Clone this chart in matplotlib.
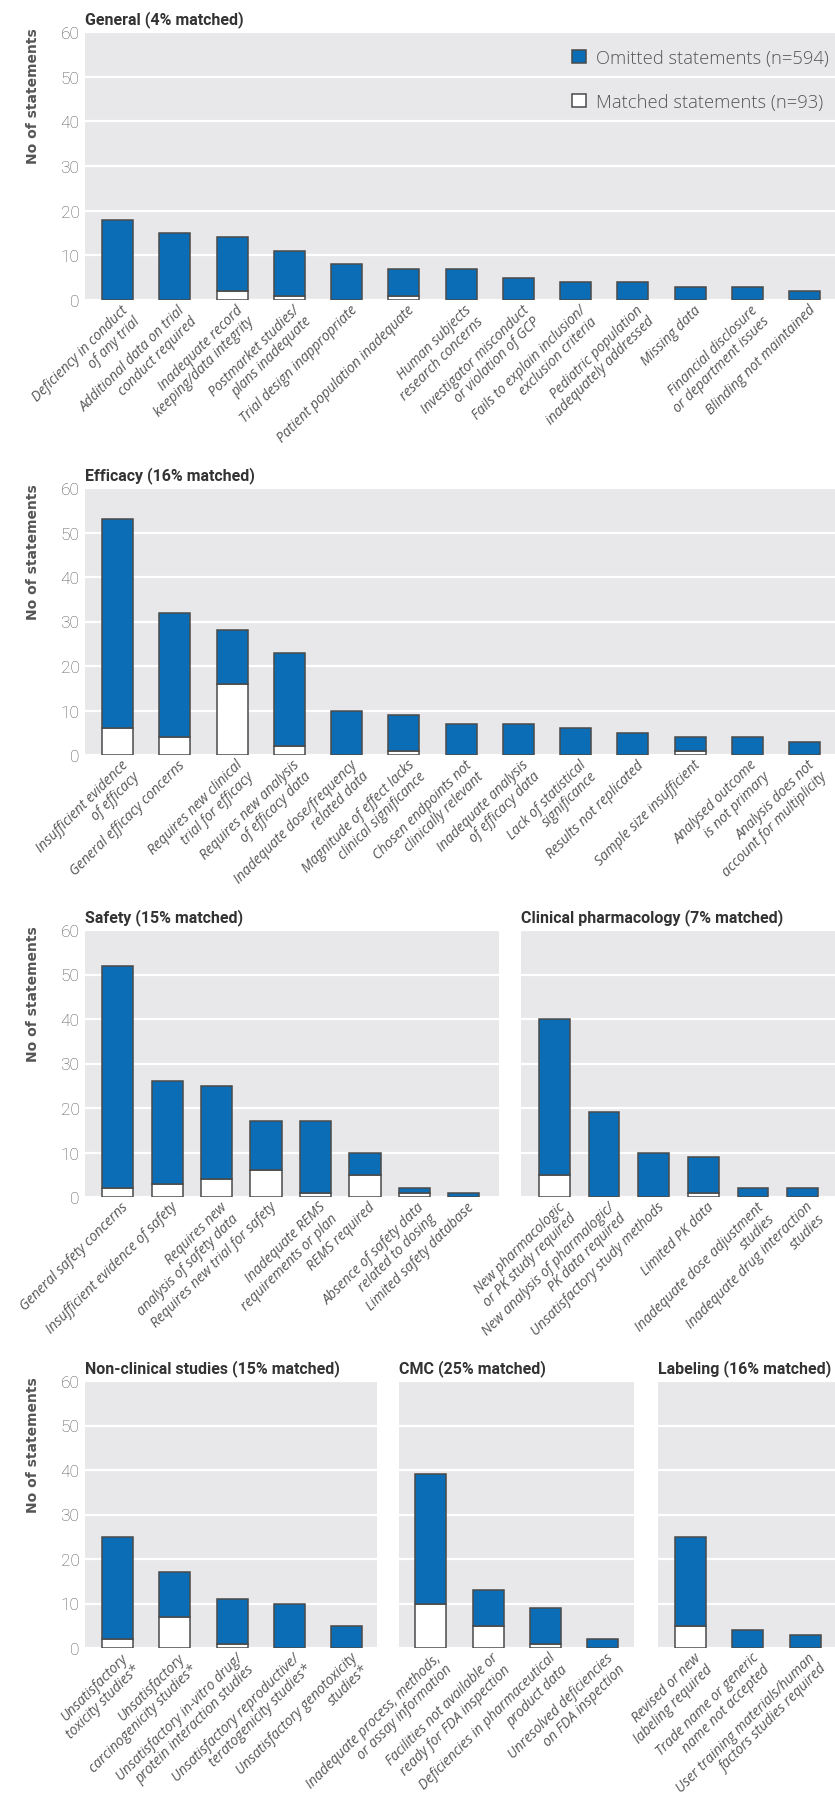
import matplotlib.pyplot as plt
from matplotlib.patches import Patch
from matplotlib.transforms import ScaledTranslation

plt.rcParams['font.family'] = ['Open Sans', 'DejaVu Sans']
NARROW = ['Roboto', 'DejaVu Sans']

# ---- data: total statements per category and how many of them were matched ----
general_labels = ["Deficiency in conduct\nof any trial", "Additional data on trial\nconduct required",
                  "Inadequate record\nkeeping/data integrity", "Postmarket studies/\nplans inadequate",
                  "Trial design inappropriate", "Patient population inadequate",
                  "Human subjects\nresearch concerns", "Investigator misconduct\nor violation of GCP",
                  "Fails to explain inclusion/\nexclusion criteria", "Pediatric population\ninadequately addressed",
                  "Missing data", "Financial disclosure\nor department issues", "Blinding not maintained"]
general_total = [18, 15, 14, 11, 8, 7, 7, 5, 4, 4, 3, 3, 2]
general_matched = [0, 0, 2, 1, 0, 1, 0, 0, 0, 0, 0, 0, 0]

efficacy_labels = ["Insufficient evidence\nof efficacy", "General efficacy concerns",
                   "Requires new clinical\ntrial for efficacy", "Requires new analysis\nof efficacy data",
                   "Inadequate dose/frequency\nrelated data", "Magnitude of effect lacks\nclinical significance",
                   "Chosen endpoints not\nclinically relevant", "Inadequate analysis\nof efficacy data",
                   "Lack of statistical\nsignificance", "Results not replicated", "Sample size insufficient",
                   "Analysed outcome\nis not primary", "Analysis does not\naccount for multiplicity"]
efficacy_total = [53, 32, 28, 23, 10, 9, 7, 7, 6, 5, 4, 4, 3]
efficacy_matched = [6, 4, 16, 2, 0, 1, 0, 0, 0, 0, 1, 0, 0]

safety_labels = ["General safety concerns", "Insufficient evidence of safety",
                 "Requires new\nanalysis of safety data", "Requires new trial for safety",
                 "Inadequate REMS\nrequirements or plan", "REMS required",
                 "Absence of safety data\nrelated to dosing", "Limited safety database"]
safety_total = [52, 26, 25, 17, 17, 10, 2, 1]
safety_matched = [2, 3, 4, 6, 1, 5, 1, 0]

clinpharm_labels = ["New pharmacologic\nor PK study required", "New analysis of pharmalogic/\nPK data required",
                    "Unsatisfactory study methods", "Limited PK data",
                    "Inadequate dose adjustment\nstudies", "Inadequate drug interaction\nstudies"]
clinpharm_total = [40, 19, 10, 9, 2, 2]
clinpharm_matched = [5, 0, 0, 1, 0, 0]

nonclinical_labels = ["Unsatisfactory\ntoxicity studies*", "Unsatisfactory\ncarcinogenicity studies*",
                      "Unsatisfactory in-vitro drug/\nprotein interaction studies",
                      "Unsatisfactory reproductive/\nteratogenicity studies*",
                      "Unsatisfactory genotoxicity\nstudies*"]
nonclinical_total = [25, 17, 11, 10, 5]
nonclinical_matched = [2, 7, 1, 0, 0]

cmc_labels = ["Inadequate process, methods,\nor assay information",
              "Facilities not available or\nready for FDA inspection",
              "Deficiencies in pharmaceutical\nproduct data", "Unresolved deficiencies\non FDA inspection"]
cmc_total = [39, 13, 9, 2]
cmc_matched = [10, 5, 1, 0]

labeling_labels = ["Revised or new\nlabeling required", "Trade name or generic\nname not accepted",
                   "User training materials/human\nfactors studies required"]
labeling_total = [25, 4, 3]
labeling_matched = [5, 0, 0]

all_total = general_total + efficacy_total + safety_total + clinpharm_total + nonclinical_total + cmc_total + labeling_total
all_matched = (general_matched + efficacy_matched + safety_matched + clinpharm_matched
               + nonclinical_matched + cmc_matched + labeling_matched)

BLUE = '#0a6db6'
EDGE = '#4a4a4a'
BG = '#e8e8eb'
GREY = '#555555'

W, H = 835, 1806
fig = plt.figure(figsize=(W / 100, H / 100), dpi=100)


def box(x0, y0, x1, y1):
    # pixel box (top-left origin) -> figure fraction
    return [x0 / W, 1 - y1 / H, (x1 - x0) / W, (y1 - y0) / H]


panels = [
    ("General", general_labels, general_total, general_matched, (85, 33, 835, 301), (-0.57, 12.53), 0.54, True),
    ("Efficacy", efficacy_labels, efficacy_total, efficacy_matched, (85, 489, 835, 756), (-0.57, 12.53), 0.54, True),
    ("Safety", safety_labels, safety_total, safety_matched, (85, 931, 499, 1198), (-0.66, 7.71), 0.63, True),
    ("Clinical pharmacology", clinpharm_labels, clinpharm_total, clinpharm_matched, (521, 931, 835, 1198), (-0.67, 5.65), 0.62, False),
    ("Non-clinical studies", nonclinical_labels, nonclinical_total, nonclinical_matched, (85, 1382, 377, 1649), (-0.57, 4.53), 0.54, True),
    ("CMC", cmc_labels, cmc_total, cmc_matched, (399, 1382, 634, 1649), (-0.55, 3.54), 0.54, False),
    ("Labeling", labeling_labels, labeling_total, labeling_matched, (658, 1382, 835, 1649), (-0.57, 2.52), 0.54, False),
]

label_shift = ScaledTranslation(3 / 100, -2 / 100, fig.dpi_scale_trans)

for name, labels, total, matched, pix, xlim, bw, first_col in panels:
    ax = fig.add_axes(box(*pix))
    ax.set_facecolor(BG)
    x = list(range(len(labels)))
    omitted = [t - m for t, m in zip(total, matched)]
    ax.bar(x, matched, width=bw, color='white', edgecolor=EDGE, linewidth=1.1, zorder=3)
    ax.bar(x, omitted, bottom=matched, width=bw, color=BLUE, edgecolor=EDGE, linewidth=1.1, zorder=3)

    ax.set_xlim(*xlim)
    ax.set_ylim(0, 60)
    ax.set_yticks(range(0, 61, 10))
    ax.yaxis.grid(True, color='white', linewidth=1.6)
    ax.set_axisbelow(True)
    ax.set_xticks([])
    for s in ax.spines.values():
        s.set_visible(False)
    ax.tick_params(axis='y', length=0, pad=4, labelsize=12.5, labelcolor=GREY,
                   labelleft=first_col)
    for t in ax.get_yticklabels():
        t.set_family(NARROW)
        t.set_fontweight('light')

    pct = round(100 * sum(matched) / sum(total))
    ax.set_title(f"{name} ({pct}% matched)", loc='left', pad=6, fontsize=11.5,
                 fontweight='bold', color='#333333', family=NARROW)

    for i, lab in enumerate(labels):
        ax.text(i, 0, lab, transform=ax.get_xaxis_transform() + label_shift,
                rotation=45, rotation_mode='anchor', ha='right', va='top',
                multialignment='right', fontsize=10, style='italic', color=GREY,
                linespacing=1.1)

    if first_col:
        fig.text(33 / W, 1 - (pix[1] - 5) / H, "No of statements", rotation=90,
                 ha='center', va='top', fontsize=10, fontweight='bold',
                 color=GREY, family='DejaVu Sans')

    if name == "General":
        handles = [Patch(facecolor=BLUE, edgecolor=EDGE, linewidth=1.1),
                   Patch(facecolor='white', edgecolor=EDGE, linewidth=1.1)]
        leg = ax.legend(handles, ["Omitted statements (n=%d)" % (sum(all_total) - sum(all_matched)),
                                  "Matched statements (n=%d)" % sum(all_matched)],
                        loc='upper left', bbox_to_anchor=(572 / W, 1 - 50 / H), bbox_transform=fig.transFigure,
                        frameon=False, fontsize=13.2, handlelength=0.75, handleheight=0.75,
                        handletextpad=0.55, labelspacing=1.4, borderpad=0, borderaxespad=0)
        for t in leg.get_texts():
            t.set_color(GREY)
            t.set_fontweight('light')

fig.savefig('out.png', dpi=100)
